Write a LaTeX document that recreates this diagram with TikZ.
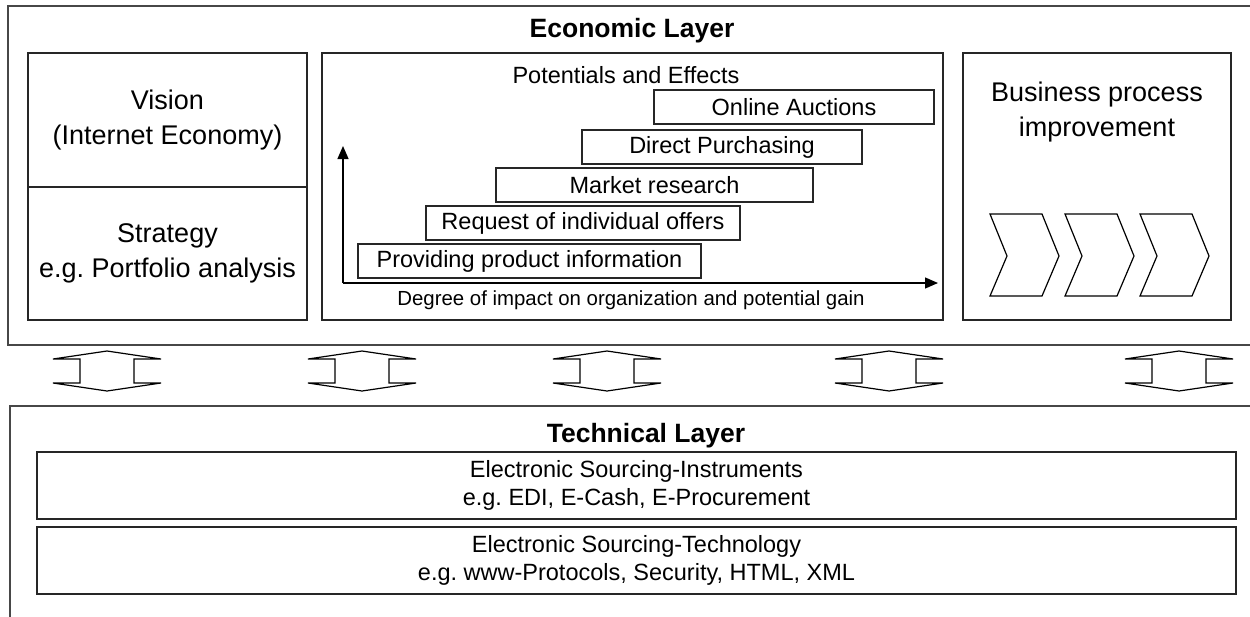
\documentclass[tikz,border=0pt]{standalone}
\usepackage{fontspec}
\setmainfont{Liberation Sans}
\usetikzlibrary{arrows.meta}
\frenchspacing
\begin{document}
\begin{tikzpicture}[x=1pt,y=-1pt,
  frame/.style={draw=black!72, line width=1.5pt},
  box/.style={draw=black!85, line width=1.3pt, inner sep=0pt, align=center},
  bigtxt/.style={font=\fontsize{27}{35}\selectfont},
  midtxt/.style={font=\fontsize{23.5}{28.5}\selectfont},
  smalltxt/.style={font=\fontsize{20.4}{24}\selectfont},
  titletxt/.style={font=\bfseries\fontsize{26.5}{30}\selectfont},
  chev/.style={draw=black, line width=1.2pt},
  dblarrow/.style={draw=black, line width=1.2pt},
  axisline/.style={draw=black, line width=1.3pt, -{Triangle[length=13pt,width=11pt]}}
]
\useasboundingbox (0,0) rectangle (1250,616);

% ---------- Economic layer frame ----------
\coordinate (ecoTR) at (1252,6);
\coordinate (ecoTL) at (8,6);
\coordinate (ecoBL) at (8,345);
\coordinate (ecoBR) at (1252,345);
\draw[frame] (ecoTR) -- (ecoTL) -- (ecoBL) -- (ecoBR);
\node[titletxt] (ecotitle) at (632,31) {Economic Layer};

% Vision / Strategy
\node[box, bigtxt, minimum width=279pt, minimum height=134pt] (vision) at (167.5,120) {Vision\\(Internet Economy)};
\node[box, bigtxt, minimum width=279pt, minimum height=133pt] (strategy) at (167.5,253.5) {Strategy\\e.g. Portfolio analysis};

% Potentials and effects
\node[box, minimum width=621pt, minimum height=267pt] (potbox) at (632.5,186.5) {};
\node[midtxt] (pottitle) at (626,75) {Potentials and Effects};
\node[box, midtxt, minimum width=280pt, minimum height=34pt] (auctions) at (794,107) {Online Auctions};
\node[box, midtxt, minimum width=280pt, minimum height=34pt] (direct) at (722,147) {Direct Purchasing};
\node[box, midtxt, minimum width=317pt, minimum height=34pt] (market) at (654.5,185) {Market research};
\node[box, midtxt, minimum width=314pt, minimum height=34pt] (request) at (583,223) {Request of individual offers};
\node[box, midtxt, minimum width=343pt, minimum height=34pt] (providing) at (529.5,261) {Providing product information};
\coordinate (ax0) at (343,283);
\coordinate (axy) at (343,146);
\coordinate (axx) at (938,283);
\draw[axisline] (ax0) -- (axy);
\draw[axisline] (ax0) -- (axx);
\node[smalltxt] (axlabel) at (631,300) {Degree of impact on organization and potential gain};

% Business process improvement
\node[box, minimum width=268pt, minimum height=267pt] (bpbox) at (1097,186.5) {};
\node[bigtxt, align=center] (bptxt) at (1097,112) {Business process\\improvement};
\foreach \i in {0,1,2} {
  \pgfmathsetmacro{\xo}{990+75*\i}
  \draw[chev] (\xo,214) -- (\xo+52,214) -- (\xo+69,256) -- (\xo+52,296) -- (\xo,296) -- (\xo+17,256) -- cycle;
}

% ---------- Double arrows between layers ----------
\foreach \cx in {107,362,607,889,1179} {
  \draw[dblarrow] (\cx,351) -- (\cx+54,359) -- (\cx+27,359) -- (\cx+27,383) -- (\cx+54,383)
    -- (\cx,391) -- (\cx-54,383) -- (\cx-27,383) -- (\cx-27,359) -- (\cx-54,359) -- cycle;
}

% ---------- Technical layer frame ----------
\coordinate (tecTR) at (1252,406);
\coordinate (tecTL) at (10,406);
\coordinate (tecBL) at (10,620);
\draw[frame] (tecTR) -- (tecTL) -- (tecBL);
\node[titletxt] (tectitle) at (646,436) {Technical Layer};
\node[box, midtxt, minimum width=1199pt, minimum height=67pt] (instr) at (636.5,485.5) {Electronic Sourcing-Instruments\\e.g. EDI, E-Cash, E-Procurement};
\node[box, midtxt, minimum width=1199pt, minimum height=67pt] (techn) at (636.5,560.5) {Electronic Sourcing-Technology\\e.g. www-Protocols, Security, HTML, XML};

\end{tikzpicture}
\end{document}
